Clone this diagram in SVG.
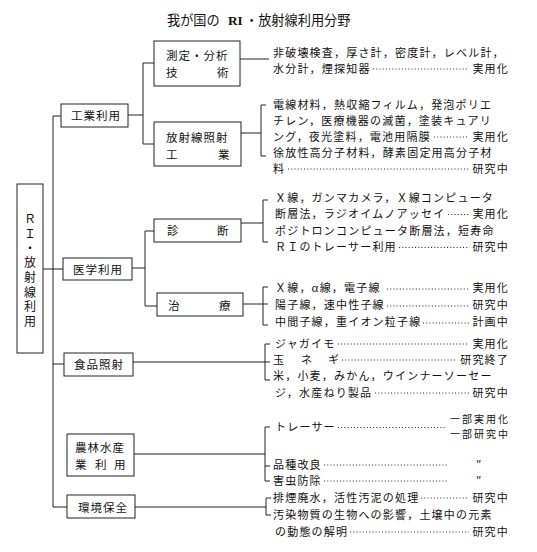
<svg xmlns="http://www.w3.org/2000/svg" width="537" height="552" viewBox="0 0 537 552">
<style>
.box{fill:#fff;stroke:#222;stroke-width:1}
.ln{fill:none;stroke:#222;stroke-width:1}
.dt{fill:none;stroke:#333;stroke-width:1.2;stroke-dasharray:1.1 2.1}
text{font-family:"Noto Sans CJK JP","Noto Sans",sans-serif;fill:#111}
.t{font-size:11px;letter-spacing:1.2px}
.b{font-size:11.5px;letter-spacing:1px}
.v{font-size:12px;writing-mode:vertical-rl;text-orientation:upright;letter-spacing:2.6px}
.s{font-size:10px;letter-spacing:2px;text-anchor:end}
.e{text-anchor:end}
.ttl{font-size:13.2px}
.rb{font-family:"Liberation Serif",serif;font-weight:bold}
</style>
<rect width="537" height="552" fill="#fff"/>
<g id="title"><text class="ttl" y="25"><tspan x="167">我が国の</tspan><tspan x="228" class="rb">RI</tspan><tspan x="245">・放射線利用分野</tspan></text></g>

<g id="connectors">
<path class="ln" d="M53 116V507M53 116H61M43 269H63M53 364H64M53 507H67"/>
<path class="ln" d="M128 115H143M143 63V144M143 63H154M143 144H154"/>
<path class="ln" d="M240 59H269"/>
<path class="ln" d="M241 133H261M266 105H261V156H266"/>
<path class="ln" d="M132 268H145M145 231V306M145 231H154M145 306H157"/>
<path class="ln" d="M241 223H263M268 200H263V242H268"/>
<path class="ln" d="M243 304H268M268 287H263V325H268"/>
<path class="ln" d="M133 362H270M270 344H265V380H270"/>
<path class="ln" d="M134 454H265M270 427H265V481H270M265 466H270"/>
<path class="ln" d="M135 507H266M271 498H266V515H271"/>
</g>

<g id="n-ri"><rect class="box" x="17" y="184" width="26" height="169"/>
<text class="v" x="30" y="213">ＲＩ・放射線利用</text></g>

<g id="n-kogyo"><rect class="box" x="61" y="104" width="67" height="23"/><text class="b" x="71" y="120">工業利用</text></g>
<g id="n-sokutei"><rect class="box" x="154" y="41" width="86" height="45"/><text class="b" x="166" y="60">測定・分析</text><text class="b" y="77"><tspan x="166">技</tspan><tspan x="217">術</tspan></text></g>
<g id="n-shosha"><rect class="box" x="154" y="122" width="87" height="44"/><text class="b" x="166" y="141.5">放射線照射</text><text class="b" y="158.5"><tspan x="166">工</tspan><tspan x="218">業</tspan></text></g>
<g id="n-igaku"><rect class="box" x="63" y="258" width="69" height="22"/><text class="b" x="73" y="273.5">医学利用</text></g>
<g id="n-shindan"><rect class="box" x="154" y="219" width="87" height="23"/><text class="b" y="234.5"><tspan x="167">診</tspan><tspan x="217">断</tspan></text></g>
<g id="n-chiryo"><rect class="box" x="157" y="293" width="86" height="23"/><text class="b" y="309.5"><tspan x="168">治</tspan><tspan x="219">療</tspan></text></g>
<g id="n-shokuhin"><rect class="box" x="64" y="353" width="69" height="23"/><text class="b" x="74" y="368.5">食品照射</text></g>
<g id="n-norin"><rect class="box" x="67" y="434" width="67" height="42"/><text class="b" x="75" y="451.5">農林水産</text><text class="b" y="468.5"><tspan x="75">業</tspan><tspan x="95">利</tspan><tspan x="114">用</tspan></text></g>
<g id="n-kankyo"><rect class="box" x="67" y="495" width="68" height="23"/><text class="b" x="78" y="511.5">環境保全</text></g>

<g id="leaders">
<path class="dt" d="M373 69H469M434 137H469M288 169H469"/>
<path class="dt" d="M448 214.5H469M399 247.5H469"/>
<path class="dt" d="M387 289H469M387 306H469M423 323H469"/>
<path class="dt" d="M338 344H469M342 360H456M375 393H469"/>
<path class="dt" d="M338 427.5H446M324 465H448M324 481H448"/>
<path class="dt" d="M421 498H469M350 532H469"/>
</g>

<g id="texts">
<text class="t" x="273" y="56.5">非破壊検査，厚さ計，密度計，レベル計，</text>
<text class="t" x="273" y="72.5">水分計，煙探知器</text><text class="t e" x="509" y="72.5">実用化</text>
<text class="t" x="273" y="108.5">電線材料，熱収縮フィルム，発泡ポリエ</text>
<text class="t" x="273" y="124.5">チレン，医療機器の滅菌，塗装キュアリ</text>
<text class="t" x="273" y="140.5">ング，夜光塗料，電池用隔膜</text><text class="t e" x="509" y="140.5">実用化</text>
<text class="t" x="273" y="156.5">徐放性高分子材料，酵素固定用高分子材</text>
<text class="t" x="273" y="172.5">料</text><text class="t e" x="509" y="172.5">研究中</text>

<text class="t" x="275" y="201.5">Ｘ線，ガンマカメラ，Ｘ線コンピュータ</text>
<text class="t" x="275" y="218">断層法，ラジオイムノアッセイ</text><text class="t e" x="509" y="218">実用化</text>
<text class="t" x="275" y="234.5">ポジトロンコンピュータ断層法，短寿命</text>
<text class="t" x="275" y="251">ＲＩのトレーサー利用</text><text class="t e" x="509" y="251">研究中</text>

<text class="t" x="275" y="292">Ｘ線，α線，電子線</text><text class="t e" x="509" y="292">実用化</text>
<text class="t" x="275" y="309">陽子線，速中性子線</text><text class="t e" x="509" y="309">研究中</text>
<text class="t" x="275" y="326">中間子線，重イオン粒子線</text><text class="t e" x="509" y="326">計画中</text>

<text class="t" x="275" y="347.5">ジャガイモ</text><text class="t e" x="509" y="347.5">実用化</text>
<text class="t" y="363.5"><tspan x="273">玉</tspan><tspan x="301">ネ</tspan><tspan x="328">ギ</tspan></text><text class="t e" x="509" y="363.5">研究終了</text>
<text class="t" x="273" y="379.5">米，小麦，みかん，ウインナーソーセー</text>
<text class="t" x="275" y="396.5">ジ，水産ねり製品</text><text class="t e" x="509" y="396.5">研究中</text>

<text class="t" x="275" y="431">トレーサー</text>
<text class="s" x="510" y="423">一部実用化</text>
<text class="s" x="510" y="437.5">一部研究中</text>
<text class="t" x="273" y="468.5">品種改良</text><text class="t" x="476" y="468.5">″</text>
<text class="t" x="273" y="484.5">害虫防除</text><text class="t" x="476" y="484.5">″</text>

<text class="t" x="273" y="501.5">排煙廃水，活性汚泥の処理</text><text class="t e" x="509" y="501.5">研究中</text>
<text class="t" x="273" y="518.5">汚染物質の生物への影響，土壌中の元素</text>
<text class="t" x="275" y="535.5">の動態の解明</text><text class="t e" x="509" y="535.5">研究中</text>
</g>
</svg>
